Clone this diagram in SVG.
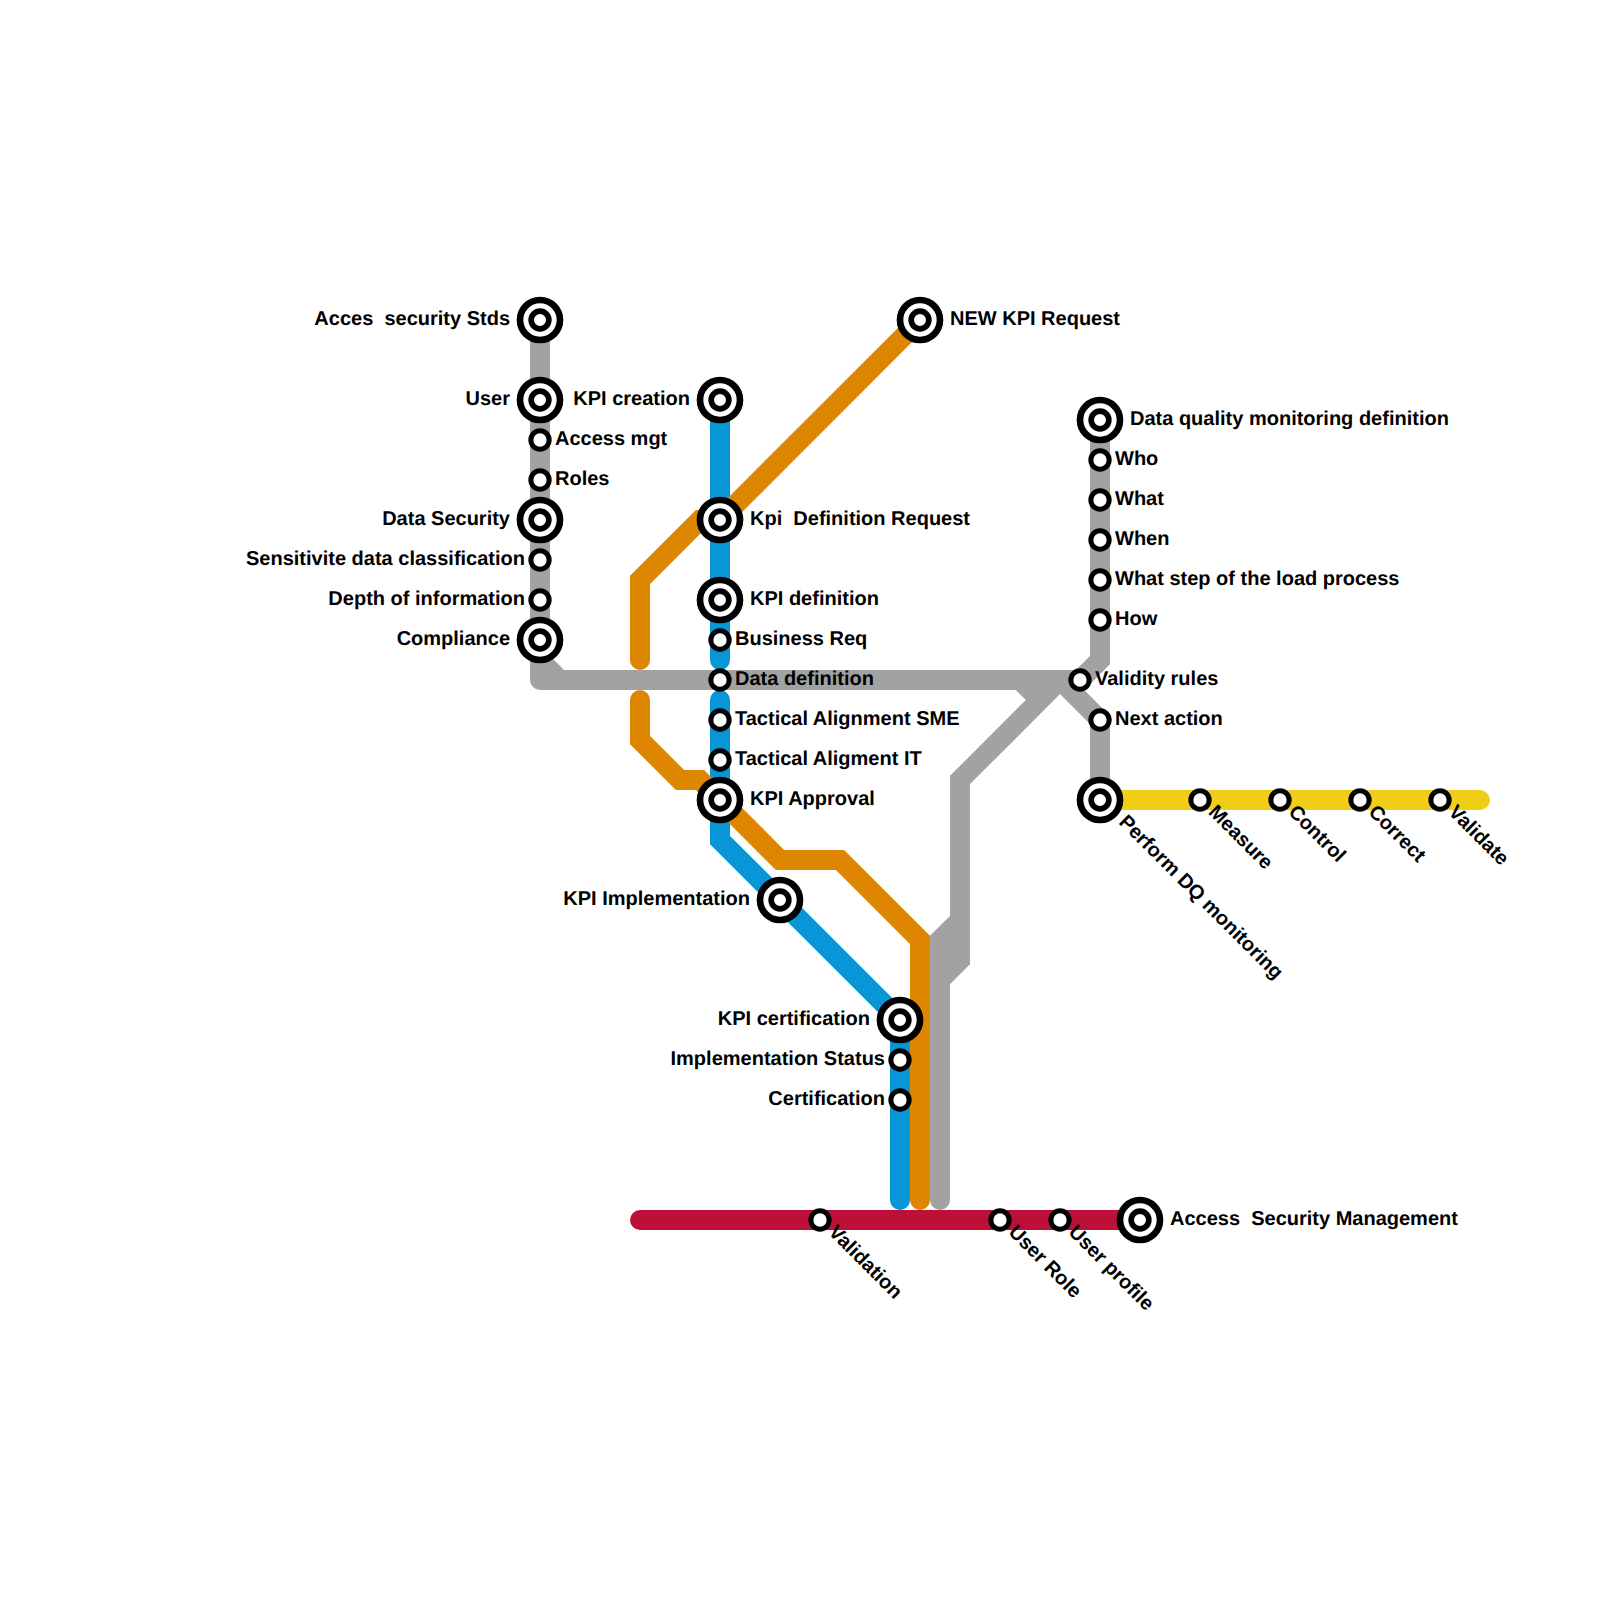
<svg xmlns="http://www.w3.org/2000/svg" width="1600" height="1600" viewBox="0 0 1600 1600">
<style>
.l{fill:none;stroke-width:20;stroke-linejoin:miter}
.r{stroke-linecap:round}
.j{stroke-linejoin:round}
.grey{stroke:#a2a2a2}.blue{stroke:#0896d7}.orange{stroke:#df8600}.red{stroke:#bd1038}.yellow{stroke:#f0ce15}
.o{fill:#fff;stroke:#000;stroke-width:6.67}
.i{fill:#fff;stroke:#000;stroke-width:5.67}
.s{fill:#fff;stroke:#000;stroke-width:5}
text{font-family:"Liberation Sans",Arial,sans-serif;font-weight:700;font-size:20px;fill:#000;white-space:pre;text-rendering:geometricPrecision}
.e{text-anchor:end}
</style>
<defs>
<g id="big"><circle class="o" r="20"/><circle class="i" r="8.83"/></g>
<g id="small"><circle class="s" r="9.17"/></g>
</defs>
<rect width="1600" height="1600" fill="#fff"/>
<g id="connectors">
<path class="l r red" d="M640 1220H1140"/>
<path class="l r yellow" d="M1100 800H1480"/>
<path class="l r j grey" d="M540 320V680H1020"/>
<path class="l r grey" d="M1060 680L960 780V960L940 980V1200"/>
<path class="l grey" d="M540 660L560 680M1020 680H1080L1100 660V420M1060 680L1100 720V800M1020 680L1040 700M960 920L940 940V1000"/>
<path class="l r blue" d="M720 400V660"/>
<path class="l r blue" d="M720 700V840L900 1020V1200"/>
<path class="l r orange" d="M640 660V580L700 520H720L920 320"/>
<path class="l r orange" d="M640 700V740L680 780H700L780 860H840L920 940V1200"/>
</g>
<g id="n1"><use href="#big" x="540" y="320"/><text class="e" x="510" y="325">Acces  security Stds</text></g>
<g id="n2"><use href="#big" x="540" y="400"/><text class="e" x="510" y="405">User</text></g>
<g id="n3"><use href="#small" x="540" y="440"/><text x="555" y="445">Access mgt</text></g>
<g id="n4"><use href="#small" x="540" y="480"/><text x="555" y="485">Roles</text></g>
<g id="n5"><use href="#big" x="540" y="520"/><text class="e" x="510" y="525">Data Security</text></g>
<g id="n6"><use href="#small" x="540" y="560"/><text class="e" x="525" y="565">Sensitivite data classification</text></g>
<g id="n7"><use href="#small" x="540" y="600"/><text class="e" x="525" y="605">Depth of information</text></g>
<g id="n8"><use href="#big" x="540" y="640"/><text class="e" x="510" y="645">Compliance</text></g>
<g id="n9"><use href="#big" x="920" y="320"/><text x="950" y="325">NEW KPI Request</text></g>
<g id="n10"><use href="#big" x="720" y="400"/><text class="e" x="690" y="405">KPI creation</text></g>
<g id="n11"><use href="#big" x="720" y="520"/><text x="750" y="525">Kpi  Definition Request</text></g>
<g id="n12"><use href="#big" x="720" y="600"/><text x="750" y="605">KPI definition</text></g>
<g id="n13"><use href="#small" x="720" y="640"/><text x="735" y="645">Business Req</text></g>
<g id="n14"><use href="#small" x="720" y="680"/><text x="735" y="685">Data definition</text></g>
<g id="n15"><use href="#small" x="720" y="720"/><text x="735" y="725">Tactical Alignment SME</text></g>
<g id="n16"><use href="#small" x="720" y="760"/><text x="735" y="765">Tactical Aligment IT</text></g>
<g id="n17"><use href="#big" x="720" y="800"/><text x="750" y="805">KPI Approval</text></g>
<g id="n18"><use href="#big" x="780" y="900"/><text class="e" x="750" y="905">KPI Implementation</text></g>
<g id="n19"><use href="#big" x="900" y="1020"/><text class="e" x="870" y="1025">KPI certification</text></g>
<g id="n20"><use href="#small" x="900" y="1060"/><text class="e" x="885" y="1065">Implementation Status</text></g>
<g id="n21"><use href="#small" x="900" y="1100"/><text class="e" x="885" y="1105">Certification</text></g>
<g id="n22"><use href="#big" x="1100" y="420"/><text x="1130" y="425">Data quality monitoring definition</text></g>
<g id="n23"><use href="#small" x="1100" y="460"/><text x="1115" y="465">Who</text></g>
<g id="n24"><use href="#small" x="1100" y="500"/><text x="1115" y="505">What</text></g>
<g id="n25"><use href="#small" x="1100" y="540"/><text x="1115" y="545">When</text></g>
<g id="n26"><use href="#small" x="1100" y="580"/><text x="1115" y="585">What step of the load process</text></g>
<g id="n27"><use href="#small" x="1100" y="620"/><text x="1115" y="625">How</text></g>
<g id="n28"><use href="#small" x="1080" y="680"/><text x="1095" y="685">Validity rules</text></g>
<g id="n29"><use href="#small" x="1100" y="720"/><text x="1115" y="725">Next action</text></g>
<g id="n30"><use href="#big" x="1100" y="800"/><text transform="translate(1118,823) rotate(45)">Perform DQ monitoring</text></g>
<g id="n31"><use href="#small" x="1200" y="800"/><text transform="translate(1207.5,813) rotate(45)">Measure</text></g>
<g id="n32"><use href="#small" x="1280" y="800"/><text transform="translate(1287.5,813) rotate(45)">Control</text></g>
<g id="n33"><use href="#small" x="1360" y="800"/><text transform="translate(1367.5,813) rotate(45)">Correct</text></g>
<g id="n34"><use href="#small" x="1440" y="800"/><text transform="translate(1447.5,813) rotate(45)">Validate</text></g>
<g id="n35"><use href="#small" x="820" y="1220"/><text transform="translate(827.5,1233) rotate(45)">Validation</text></g>
<g id="n36"><use href="#small" x="1000" y="1220"/><text transform="translate(1007.5,1233) rotate(45)">User Role</text></g>
<g id="n37"><use href="#small" x="1060" y="1220"/><text transform="translate(1067.5,1233) rotate(45)">User profile</text></g>
<g id="n38"><use href="#big" x="1140" y="1220"/><text x="1170" y="1225">Access  Security Management</text></g>
</svg>
